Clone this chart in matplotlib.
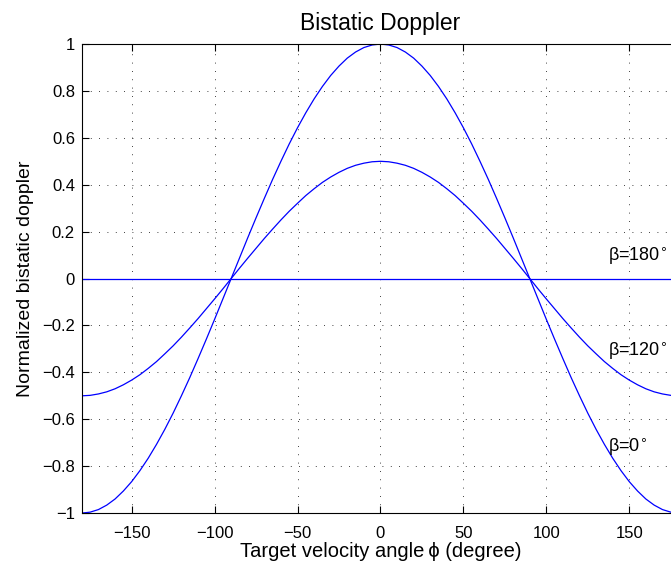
import matplotlib
matplotlib.use("Agg")
import matplotlib.pyplot as plt

plt.rcParams["font.family"] = ["Liberation Sans", "DejaVu Sans"]

# target velocity angle, degrees (5 degree steps)
phi = list(range(-180, 185, 5))

# normalized bistatic doppler
beta_0 = [-1.0, -0.996, -0.985, -0.966, -0.940, -0.906, -0.866, -0.819, -0.766, -0.707,
          -0.643, -0.574, -0.5, -0.423, -0.342, -0.259, -0.174, -0.087, 0.0,
          0.087, 0.174, 0.259, 0.342, 0.423, 0.5, 0.574, 0.643, 0.707, 0.766,
          0.819, 0.866, 0.906, 0.940, 0.966, 0.985, 0.996, 1.0,
          0.996, 0.985, 0.966, 0.940, 0.906, 0.866, 0.819, 0.766, 0.707,
          0.643, 0.574, 0.5, 0.423, 0.342, 0.259, 0.174, 0.087, 0.0,
          -0.087, -0.174, -0.259, -0.342, -0.423, -0.5, -0.574, -0.643, -0.707, -0.766,
          -0.819, -0.866, -0.906, -0.940, -0.966, -0.985, -0.996, -1.0]
beta_120 = [-0.5, -0.498, -0.492, -0.483, -0.470, -0.453, -0.433, -0.410, -0.383, -0.354,
            -0.321, -0.287, -0.25, -0.211, -0.171, -0.129, -0.087, -0.044, 0.0,
            0.044, 0.087, 0.129, 0.171, 0.211, 0.25, 0.287, 0.321, 0.354, 0.383,
            0.410, 0.433, 0.453, 0.470, 0.483, 0.492, 0.498, 0.5,
            0.498, 0.492, 0.483, 0.470, 0.453, 0.433, 0.410, 0.383, 0.354,
            0.321, 0.287, 0.25, 0.211, 0.171, 0.129, 0.087, 0.044, 0.0,
            -0.044, -0.087, -0.129, -0.171, -0.211, -0.25, -0.287, -0.321, -0.354, -0.383,
            -0.410, -0.433, -0.453, -0.470, -0.483, -0.492, -0.498, -0.5]
beta_180 = [0.0] * len(phi)

labels = [r"β=180$^{\circ}$", r"β=120$^{\circ}$", r"β=0$^{\circ}$"]
label_x = [137, 137, 137]
label_y = [0.094, -0.31, -0.72]

xticks = [-150, -100, -50, 0, 50, 100, 150]
xtick_labels = ["\u2212150", "\u2212100", "\u221250", "0", "50", "100", "150"]
yticks = [-1, -0.8, -0.6, -0.4, -0.2, 0, 0.2, 0.4, 0.6, 0.8, 1]
ytick_labels = ["\u22121", "\u22120.8", "\u22120.6", "\u22120.4", "\u22120.2", "0",
                "0.2", "0.4", "0.6", "0.8", "1"]

fig = plt.figure(figsize=(6.71, 5.72), dpi=100)
ax = fig.add_axes([0.122, 0.103, 0.89, 0.82])

for series in (beta_0, beta_120, beta_180):
    ax.plot(phi, series, color="#0000ff", linewidth=0.9)

for txt, x, y in zip(labels, label_x, label_y):
    ax.text(x, y, txt, fontsize=13, ha="left", va="center")

ax.set_xlim(-180, 180)
ax.set_ylim(-1, 1)
ax.set_xticks(xticks)
ax.set_xticklabels(xtick_labels)
ax.set_yticks(yticks)
ax.set_yticklabels(ytick_labels)
ax.tick_params(direction="in", top=True, right=True, labelsize=12, length=5, width=0.8, pad=5)
ax.tick_params(axis="x", pad=9)
ax.grid(True, linestyle=(0, (1, 9)), color="black", linewidth=0.6)
for s in ax.spines.values():
    s.set_linewidth(0.8)

ax.set_title("Bistatic Doppler", fontsize=16.5, pad=10)
ax.set_xlabel("Target velocity angle\u2009ϕ (degree)", fontsize=14.5, labelpad=1)
ax.set_ylabel("Normalized bistatic doppler", fontsize=14, labelpad=6)

fig.savefig("out.png", dpi=100)
